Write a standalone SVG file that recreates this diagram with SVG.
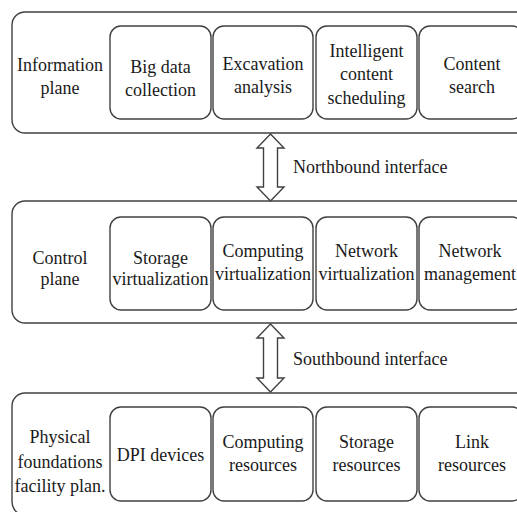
<svg xmlns="http://www.w3.org/2000/svg" width="517" height="512" viewBox="0 0 517 512">
<style>
.outer{fill:#fff;stroke:#404040;stroke-width:1.4}
.inner{fill:#fff;stroke:#404040;stroke-width:1.4}
.arrow{fill:#fff;stroke:#404040;stroke-width:1.4;stroke-linejoin:miter}
.t{font-size:18px;fill:#1a1a1a;text-anchor:middle}
.lbl{font-size:18px;fill:#1a1a1a;text-anchor:start}
</style>
<rect width="517" height="512" fill="#fff"/>
<g font-family="Liberation Serif, serif" style="font-family:'Liberation Serif', serif">
<g id="information-plane">
<rect class="outer" x="12" y="12" width="520" height="121" rx="13"/>
<text class="t" x="60" y="71">Information</text><text class="t" x="60" y="94">plane</text>
</g>
<g id="big-data-collection"><rect class="inner" x="110" y="26" width="101" height="93" rx="11"/>
<text class="t" x="160.5" y="73">Big data</text><text class="t" x="160.5" y="96">collection</text></g>
<g id="excavation-analysis"><rect class="inner" x="213" y="26" width="100" height="93" rx="11"/>
<text class="t" x="263" y="70">Excavation</text><text class="t" x="263" y="93">analysis</text></g>
<g id="intelligent-content-scheduling"><rect class="inner" x="316" y="26" width="101" height="93" rx="11"/>
<text class="t" x="366.5" y="57">Intelligent</text><text class="t" x="366.5" y="80">content</text><text class="t" x="366.5" y="104">scheduling</text></g>
<g id="content-search"><rect class="inner" x="419" y="26" width="104" height="93" rx="11"/>
<text class="t" x="472" y="70">Content</text><text class="t" x="472" y="93">search</text></g>

<g id="control-plane">
<rect class="outer" x="12" y="201" width="520" height="122" rx="13"/>
<text class="t" x="60" y="264">Control</text><text class="t" x="60" y="285">plane</text>
</g>
<g id="storage-virtualization"><rect class="inner" x="110" y="217" width="101" height="93" rx="11"/>
<text class="t" x="160.5" y="264">Storage</text><text class="t" x="160.5" y="285">virtualization</text></g>
<g id="computing-virtualization"><rect class="inner" x="213" y="217" width="100" height="93" rx="11"/>
<text class="t" x="263" y="257">Computing</text><text class="t" x="263" y="280">virtualization</text></g>
<g id="network-virtualization"><rect class="inner" x="316" y="217" width="101" height="93" rx="11"/>
<text class="t" x="366.5" y="257">Network</text><text class="t" x="366.5" y="280">virtualization</text></g>
<g id="network-management"><rect class="inner" x="419" y="217" width="104" height="93" rx="11"/>
<text class="t" x="470" y="257">Network</text><text class="t" x="470" y="280">management</text></g>

<g id="physical-plane">
<rect class="outer" x="12" y="393" width="520" height="122" rx="13"/>
<text class="t" x="60" y="443">Physical</text><text class="t" x="60" y="468">foundations</text><text class="t" x="60" y="492">facility plan.</text>
</g>
<g id="dpi-devices"><rect class="inner" x="110" y="407" width="101" height="94" rx="11"/>
<text class="t" x="160.5" y="461">DPI devices</text></g>
<g id="computing-resources"><rect class="inner" x="213" y="407" width="100" height="94" rx="11"/>
<text class="t" x="263" y="448">Computing</text><text class="t" x="263" y="471">resources</text></g>
<g id="storage-resources"><rect class="inner" x="316" y="407" width="101" height="94" rx="11"/>
<text class="t" x="366.5" y="448">Storage</text><text class="t" x="366.5" y="471">resources</text></g>
<g id="link-resources"><rect class="inner" x="419" y="407" width="104" height="94" rx="11"/>
<text class="t" x="472" y="448">Link</text><text class="t" x="472" y="471">resources</text></g>

<g id="connectors">
<polygon class="arrow" points="270.5,134 284,148 277.5,148 277.5,187 284,187 270.5,201 257,187 263.5,187 263.5,148 257,148"/>
<text class="lbl" x="293" y="173">Northbound interface</text>
<polygon class="arrow" points="270.5,324 284,338 277.5,338 277.5,378 284,378 270.5,392 257,378 263.5,378 263.5,338 257,338"/>
<text class="lbl" x="293" y="365">Southbound interface</text>
</g>
</g>
</svg>
